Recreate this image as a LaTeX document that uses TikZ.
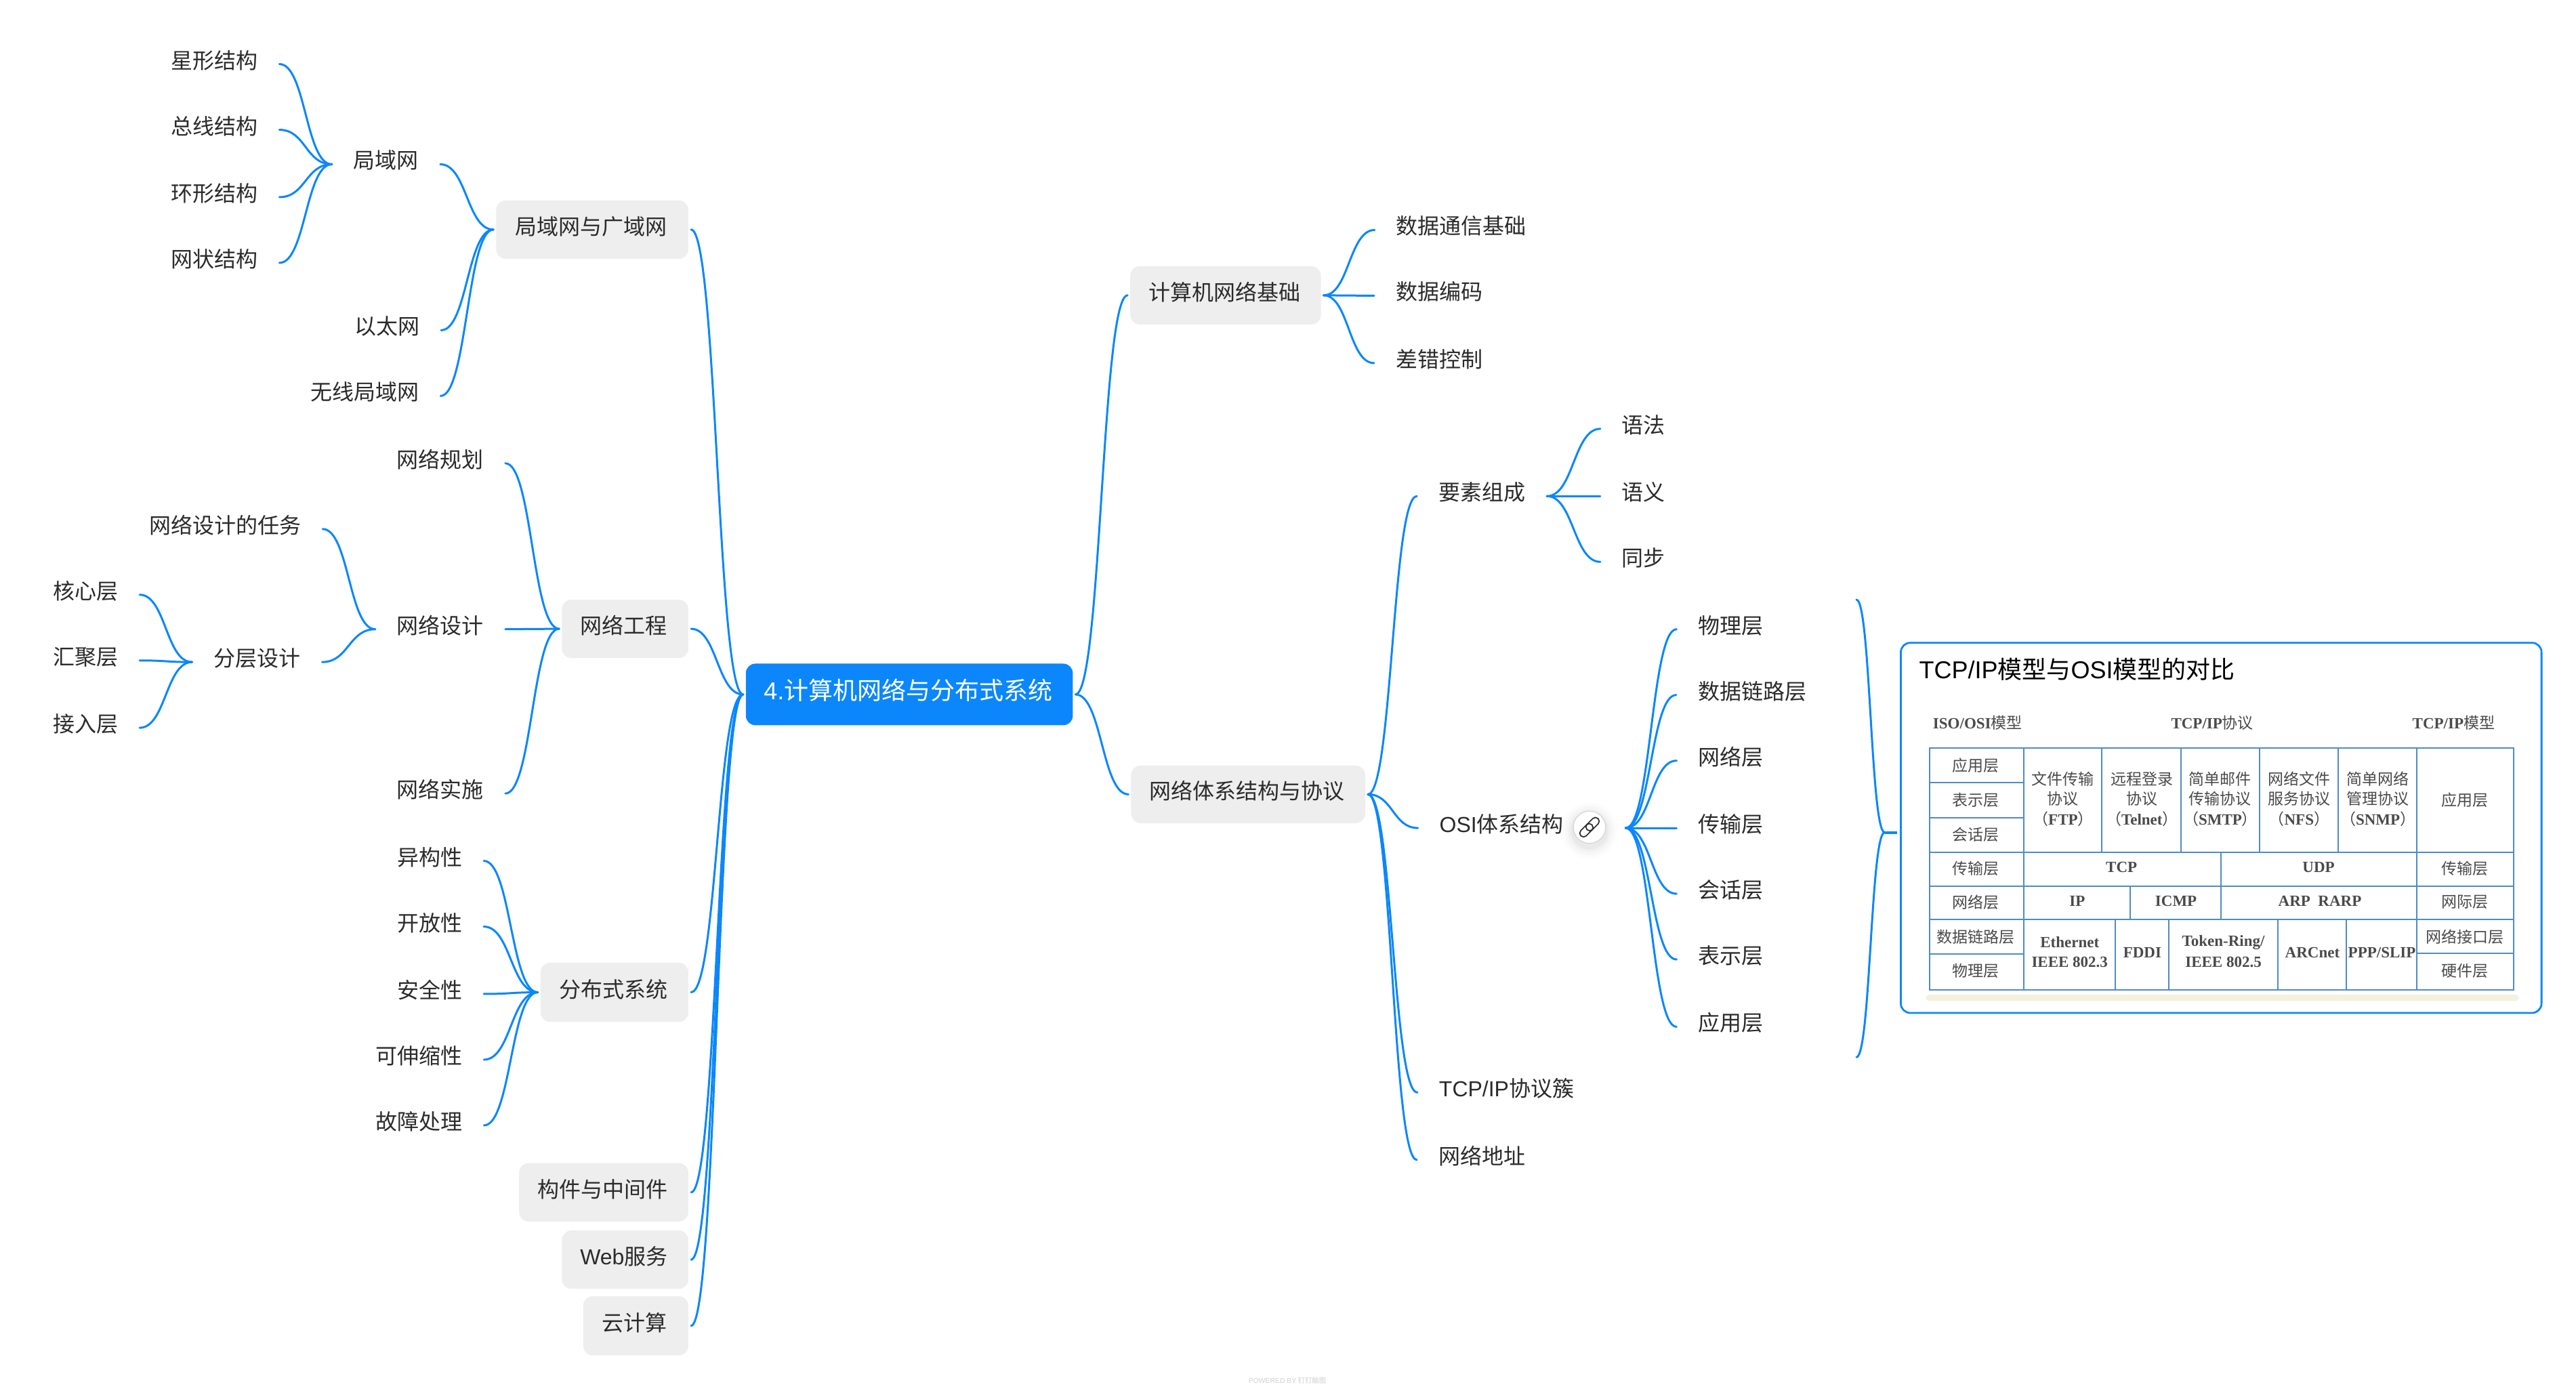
\documentclass[tikz,border=0pt]{standalone}
\usepackage{fontspec}
\setmainfont{Noto Sans CJK SC}
\newfontfamily\lat{Liberation Sans}
\newfontfamily\ser{Liberation Serif}
\usetikzlibrary{calc}
\definecolor{mmblue}{HTML}{0B87FB}
\definecolor{mmgray}{HTML}{EEEEEE}
\definecolor{mmtext}{HTML}{2B2B2B}
\definecolor{tline}{HTML}{4F8CC4}
\definecolor{ttext}{HTML}{4A4A4A}
\definecolor{tcream}{HTML}{F6F0DF}
\tikzset{
  conn/.style={draw=mmblue,line width=1.5pt,line cap=round},
  plain/.style={font=\fontsize{16pt}{18pt}\selectfont,text=mmtext,inner xsep=15.8pt,inner ysep=0pt,text height=.95em,text depth=.3em},
  box/.style={fill=mmgray,rounded corners=7pt,inner sep=0pt,outer sep=2pt,font=\fontsize{16pt}{19pt}\selectfont,text=mmtext,text height=1em,text depth=.25em},
  rootbox/.style={box,fill=mmblue,text=white,font=\fontsize{18pt}{22pt}\selectfont},
  tlines/.style={draw=tline,line width=1pt},
  tcell/.style={font=\fontsize{11.5pt}{13pt}\selectfont,text=ttext,inner sep=0pt},
}
\newcommand\mm[2]{\draw[conn] let \p1=(#1),\p2=(#2),\n1={(\x1+\x2)/2} in (\p1) .. controls (\n1,\y1) and (\n1,\y2) .. (\p2);}
\newcommand\bx[6]{\node[box,minimum width={(#3-#2)*1.21237pt},minimum height={(#5-#4)*1.21237pt}] (#1) at ({(#2+#3)/2},{(#4+#5)/2}) {#6\kern1.7pt\null};}
\newcommand\pl[4]{\node[plain] (#1) at (#2,#3) {#4};}
\newcounter{tcn}
\newcommand\tc[3]{\stepcounter{tcn}\node[tcell] (tc\arabic{tcn}) at (#1,#2) {#3};}
\begin{document}
\begin{tikzpicture}[x=1.21237pt,y=-1.21237pt]
\fill[white] (0,0) rectangle (1568,846.3);
\useasboundingbox (0,0) rectangle (1568,846.3);
% boxes
\node[rootbox,minimum width={199*1.21237pt},minimum height={37.5*1.21237pt}] (root) at (553.5,422.7) {{\lat 4.}计算机网络与分布式系统\kern1.7pt\null};
\bx{lan}{302}{419}{122}{157.5}{局域网与广域网}
\bx{eng}{342}{419}{365}{400.5}{网络工程}
\bx{dist}{329}{419}{586}{622}{分布式系统}
\bx{mid}{316}{419}{708}{743.5}{构件与中间件}
\bx{web}{342}{419}{749}{784.5}{{\lat Web}服务}
\bx{cloud}{355}{419}{789}{825}{云计算}
\bx{base}{688}{804}{162}{197.5}{计算机网络基础}
\bx{arch}{688.5}{831}{466}{501}{网络体系结构与协议}
% left plain
\pl{star}{130.5}{39}{星形结构}
\pl{bus}{130.5}{79}{总线结构}
\pl{ring}{130.5}{120}{环形结构}
\pl{mesh}{130.5}{160}{网状结构}
\pl{lanw}{235}{100}{局域网}
\pl{eth}{235.5}{201}{以太网}
\pl{wlan}{222}{241}{无线局域网}
\pl{plan}{268}{282}{网络规划}
\pl{design}{268}{383}{网络设计}
\pl{impl}{268}{483}{网络实施}
\pl{task}{137}{322}{网络设计的任务}
\pl{layer}{156.5}{403}{分层设计}
\pl{core}{52}{362}{核心层}
\pl{agg}{52}{402}{汇聚层}
\pl{acc}{52}{443}{接入层}
\pl{het}{261.5}{524}{异构性}
\pl{open}{261.5}{564}{开放性}
\pl{sec}{261.5}{605}{安全性}
\pl{scale}{255}{645}{可伸缩性}
\pl{fault}{255}{685}{故障处理}
% right plain
\pl{dc}{889.5}{140}{数据通信基础}
\pl{de}{876}{180}{数据编码}
\pl{ec}{876}{221}{差错控制}
\pl{elem}{902}{302}{要素组成}
\pl{syn}{1000.5}{261}{语法}
\pl{sem}{1000.5}{302}{语义}
\pl{tim}{1000.5}{342}{同步}
\pl{osi}{914}{504}{{\lat OSI}体系结构}
\pl{phy}{1053.5}{383}{物理层}
\pl{dll}{1066.5}{423}{数据链路层}
\pl{net}{1053.5}{463}{网络层}
\pl{trans}{1053.5}{504}{传输层}
\pl{sess}{1053.5}{544}{会话层}
\pl{pres}{1053.5}{584}{表示层}
\pl{app}{1053.5}{625}{应用层}
\pl{tcpip}{917}{665}{{\lat TCP/IP}协议簇}
\pl{addr}{902}{706}{网络地址}
% link icon
\foreach \r/\o in {17/.012,15/.018,13/.025,11.5/.03}{\fill[black,opacity=\o] (967.5,505.5) circle ({\r*1.21237pt});}
\node[circle,draw=black!18,line width=.5pt,fill=white,minimum size={19.6*1.21237pt},inner sep=0pt] (icon) at (967.5,503.5) {};
\draw[mmtext,line width=.85pt,rounded corners=2.7pt,rotate around={45:(967.5,503.5)}] (960.1,501.2) rectangle (969.6,505.8);
\draw[mmtext,line width=.85pt,rounded corners=2.7pt,rotate around={45:(967.5,503.5)}] (965.4,501.2) rectangle (974.9,505.8);
\coordinate (osiout) at (989.5,504);
% edges, root
\mm{root.west}{lan.east}
\mm{root.west}{eng.east}
\mm{root.west}{dist.east}
\mm{root.west}{mid.east}
\mm{root.west}{web.east}
\mm{root.west}{cloud.east}
\mm{root.east}{base.west}
\mm{root.east}{arch.west}
% left
\mm{lan.west}{lanw.east}
\mm{lan.west}{eth.east}
\mm{lan.west}{wlan.east}
\foreach \c in {star,bus,ring,mesh}{\mm{lanw.west}{\c.east}}
\foreach \c in {plan,design,impl}{\mm{eng.west}{\c.east}}
\mm{design.west}{task.east}
\mm{design.west}{layer.east}
\foreach \c in {core,agg,acc}{\mm{layer.west}{\c.east}}
\foreach \c in {het,open,sec,scale,fault}{\mm{dist.west}{\c.east}}
% right
\foreach \c in {dc,de,ec}{\mm{base.east}{\c.west}}
\foreach \c in {elem,osi,tcpip,addr}{\mm{arch.east}{\c.west}}
\foreach \c in {syn,sem,tim}{\mm{elem.east}{\c.west}}
\foreach \c in {phy,dll,net,trans,sess,pres,app}{\mm{osiout}{\c.west}}
% image card
\node[draw=mmblue,line width=1.4pt,fill=white,rounded corners=7pt,minimum width={390*1.21237pt},minimum height={225.3*1.21237pt},inner sep=0pt] (card) at (1352,503.9) {};
\coordinate (bm) at (1147.2,506.7);
\coordinate (btop) at (1130,365);
\coordinate (bbot) at (1130,643.5);
\mm{bm}{btop}
\mm{bm}{bbot}
\draw[conn,line width=2pt,line cap=butt] (bm) -- (1154.8,506.7);
\node[anchor=west,inner sep=0pt,font=\fontsize{18pt}{20pt}\selectfont,text=black] (cardtitle) at (1168,407.5) {{\lat TCP/IP}模型与{\lat OSI}模型的对比};
% table
\begin{scope}[shift={(1146.6,383.6)},x=0.3268pt,y=-0.1908pt]
\fill[tcream,rounded corners=3pt] (95,1410) rectangle (1435,1434);
\draw[tlines] (103,455) rectangle (1422,1390);
\foreach \yy in {860,990,1118}{\draw[tlines] (103,\yy) -- (1422,\yy);}
\foreach \xx in {316,1203}{\draw[tlines] (\xx,455) -- (\xx,1390);}
\foreach \yy in {590,725,1253}{\draw[tlines] (103,\yy) -- (316,\yy);}
\draw[tlines] (1203,1250) -- (1422,1250);
\foreach \xx in {493,672,849,1026}{\draw[tlines] (\xx,455) -- (\xx,860);}
\draw[tlines] (762,860) -- (762,1118);
\draw[tlines] (556,990) -- (556,1118);
\foreach \xx in {523,644,890,1044}{\draw[tlines] (\xx,1118) -- (\xx,1390);}
\tc{212}{357}{{\ser\bfseries ISO/OSI}模型}
\tc{742}{357}{{\ser\bfseries TCP/IP}协议}
\tc{1287}{357}{{\ser\bfseries TCP/IP}模型}
\tc{208}{523}{应用层}
\tc{208}{658}{表示层}
\tc{208}{790}{会话层}
\tc{208}{922}{传输层}
\tc{208}{1052}{网络层}
\tc{208}{1187}{数据链路层}
\tc{208}{1318}{物理层}
\tc{1313}{658}{应用层}
\tc{1313}{922}{传输层}
\tc{1313}{1052}{网际层}
\tc{1313}{1185}{网络接口层}
\tc{1313}{1318}{硬件层}
\tc{405}{575}{文件传输}\tc{405}{652}{协议}\tc{405}{731}{（{\ser\bfseries FTP}）}
\tc{583}{575}{远程登录}\tc{583}{652}{协议}\tc{583}{731}{（{\ser\bfseries Telnet}）}
\tc{760}{575}{简单邮件}\tc{760}{652}{传输协议}\tc{760}{731}{（{\ser\bfseries SMTP}）}
\tc{938}{575}{网络文件}\tc{938}{652}{服务协议}\tc{938}{731}{（{\ser\bfseries NFS}）}
\tc{1116}{575}{简单网络}\tc{1116}{652}{管理协议}\tc{1116}{731}{（{\ser\bfseries SNMP}）}
\tc{537}{917}{\ser\bfseries TCP}
\tc{982}{917}{\ser\bfseries UDP}
\tc{437}{1048}{\ser\bfseries IP}
\tc{660}{1048}{\ser\bfseries ICMP}
\tc{985}{1048}{\ser\bfseries ARP\ \ RARP}
\tc{420}{1208}{\ser\bfseries Ethernet}
\tc{420}{1285}{\ser\bfseries IEEE 802.3}
\tc{584}{1246}{\ser\bfseries FDDI}
\tc{767}{1208}{\ser\bfseries Token-Ring/}
\tc{767}{1285}{\ser\bfseries IEEE 802.5}
\tc{968}{1246}{\ser\bfseries ARCnet}
\tc{1125}{1246}{\ser\bfseries PPP/SLIP}
\end{scope}
\node[font=\fontsize{5.2pt}{6pt}\selectfont,text=black!18,inner sep=0pt] (wm) at (783.6,840.5) {{\lat POWERED BY} 钉钉脑图};
\end{tikzpicture}
\end{document}
